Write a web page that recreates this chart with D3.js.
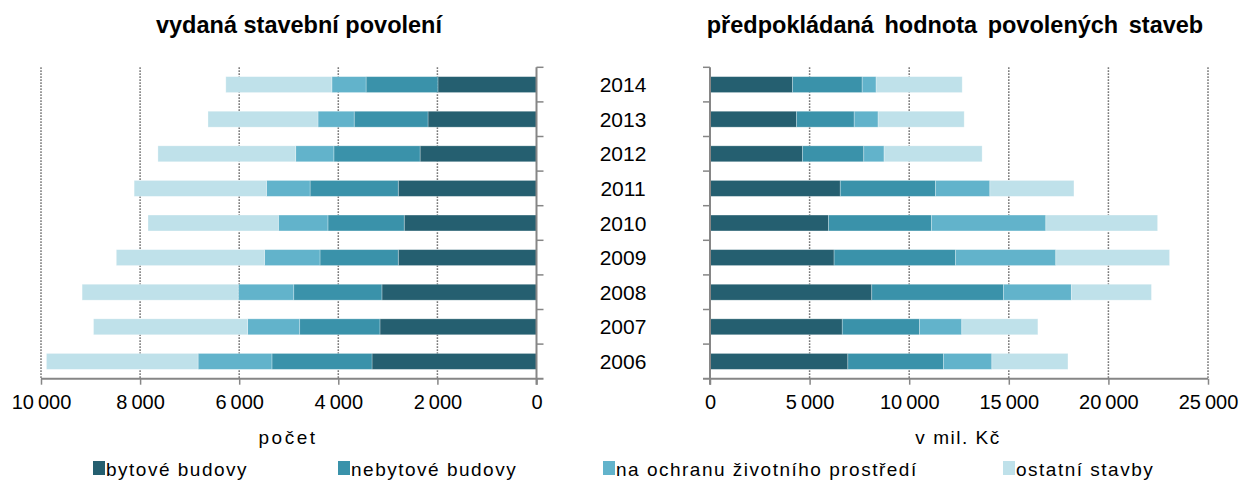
<!DOCTYPE html>
<html lang="cs">
<head>
<meta charset="utf-8">
<script src="https://cdn.jsdelivr.net/npm/d3@7"></script>
<style>
  html, body { margin: 0; padding: 0; background: #fff; }
  svg { display: block; font-family: "Liberation Sans", Arial, sans-serif; }
</style>
</head>
<body>
<svg id="chart" width="1242" height="484"></svg>
<script>
// Years shown on the shared category axis (top to bottom)
const years = ["2014", "2013", "2012", "2011", "2010", "2009", "2008", "2007", "2006"];

const seriesNames = ["bytové budovy", "nebytové budovy", "na ochranu životního prostředí", "ostatní stavby"];
const seriesColors = ["#255f70", "#3a92aa", "#62b3cb", "#bfe1ea"];

// Issued building permits (count), per year in the order of `years`
const countResidential    = [1990, 2190, 2350, 2790, 2670, 2790, 3120, 3160, 3320];
const countNonResidential = [1450, 1490, 1740, 1780, 1540, 1580, 1780, 1620, 2020];
const countEnvironment    = [ 690,  730,  770,  880, 1000, 1120, 1120, 1050, 1490];
const countOther          = [2140, 2220, 2780, 2670, 2630, 2990, 3150, 3110, 3060];

// Estimated value of permitted construction (mil. CZK)
const valueResidential    = [4140, 4340, 4640, 6540, 5950, 6230, 8120, 6640, 6920];
const valueNonResidential = [3500, 2900, 3080, 4780, 5170, 6090, 6610, 3880, 4800];
const valueEnvironment    = [ 700, 1200, 1020, 2730, 5740, 5040, 3410, 2120, 2430];
const valueOther          = [4320, 4320, 4920, 4220, 5610, 5710, 4020, 3820, 3820];

const countTicks = [0, 2000, 4000, 6000, 8000, 10000];
const valueTicks = [0, 5000, 10000, 15000, 20000, 25000];

const svg = d3.select("#chart");
const fmt = v => d3.format(",")(v).replace(/,/g, "\u2009");
const axisColor = "#868686";
const gridColor = "#7a7a7a";

const plotTop = 67.3, plotBottom = 378.7;
const y = d3.scaleBand().domain(years).range([plotTop, plotBottom]).paddingInner(0.54).paddingOuter(0.27);
const boundaries = d3.range(years.length + 1).map(i => plotTop + i * y.step());

function buildStack(arrays) {
  const rows = years.map((yr, i) => {
    const r = { year: yr };
    arrays.forEach((a, k) => r["s" + k] = a[i]);
    return r;
  });
  return d3.stack().keys(arrays.map((_, k) => "s" + k))(rows);
}

function drawPanel(opts) {
  const { x, stackArrays, ticks, axisX, tickDir, title, titleX, titleSpacing, unit, unitX, unitSpacing } = opts;
  const g = svg.append("g");

  // dotted vertical gridlines
  g.selectAll("line.grid").data(ticks.filter(t => t !== 0)).join("line")
    .attr("x1", d => x(d)).attr("x2", d => x(d))
    .attr("y1", plotTop).attr("y2", plotBottom)
    .attr("stroke", gridColor).attr("stroke-width", 1.5)
    .attr("stroke-dasharray", "1.6,1.4");

  // stacked bars
  const stack = buildStack(stackArrays);
  stack.forEach((layer, k) => {
    g.append("g").selectAll("rect").data(layer).join("rect")
      .attr("x", d => Math.min(x(d[0]), x(d[1])))
      .attr("width", d => Math.abs(x(d[1]) - x(d[0])))
      .attr("y", d => y(d.data.year))
      .attr("height", y.bandwidth())
      .attr("fill", seriesColors[k])
      .attr("stroke", "#ffffff").attr("stroke-opacity", 0.35).attr("stroke-width", 0.8);
  });

  // horizontal value axis
  const xAxisG = g.append("g").attr("transform", `translate(0,${plotBottom})`)
    .call(d3.axisBottom(x).tickValues(ticks).tickSize(6).tickPadding(10).tickFormat(fmt));
  xAxisG.select(".domain").remove();
  xAxisG.selectAll(".tick line").attr("stroke", axisColor).attr("stroke-width", 1.5);
  xAxisG.selectAll(".tick text").attr("font-size", 20).attr("fill", "#000")
    .attr("font-family", "'Liberation Sans', Arial, sans-serif");
  const [r0, r1] = d3.extent(x.range());
  const ext = tickDir > 0 ? [r0, r1 + 7] : [r0 - 7, r1];
  g.append("line").attr("x1", ext[0]).attr("x2", ext[1]).attr("y1", plotBottom).attr("y2", plotBottom)
    .attr("stroke", axisColor).attr("stroke-width", 2);

  // category axis with ticks on band boundaries
  g.append("line").attr("x1", axisX).attr("x2", axisX).attr("y1", plotTop).attr("y2", plotBottom + 6)
    .attr("stroke", axisColor).attr("stroke-width", 2);
  g.selectAll("line.cat").data(boundaries.slice(0, -1)).join("line")
    .attr("x1", axisX).attr("x2", axisX + tickDir * 7)
    .attr("y1", d => d).attr("y2", d => d)
    .attr("stroke", axisColor).attr("stroke-width", 1.5);

  svg.append("text").attr("x", titleX).attr("y", 33).attr("text-anchor", "middle")
    .attr("font-size", 23.5).attr("font-weight", "bold").attr("word-spacing", titleSpacing)
    .attr("fill", "#000").text(title);
  svg.append("text").attr("x", unitX).attr("y", 444).attr("text-anchor", "middle")
    .attr("font-size", 19).attr("letter-spacing", unitSpacing).attr("fill", "#000").text(unit);
}

const xCount = d3.scaleLinear().domain([0, 10000]).range([536.5, 41]);
const xValue = d3.scaleLinear().domain([0, 25000]).range([710, 1208]);

drawPanel({
  x: xCount,
  stackArrays: [countResidential, countNonResidential, countEnvironment, countOther],
  ticks: countTicks, axisX: 536.5, tickDir: 1,
  title: "vydaná stavební povolení", titleX: 299, titleSpacing: 0,
  unit: "počet", unitX: 288, unitSpacing: 2.5
});

drawPanel({
  x: xValue,
  stackArrays: [valueResidential, valueNonResidential, valueEnvironment, valueOther],
  ticks: valueTicks, axisX: 710, tickDir: -1,
  title: "předpokládaná hodnota povolených staveb", titleX: 955, titleSpacing: 4,
  unit: "v mil. Kč", unitX: 958, unitSpacing: 1.5
});

// year labels between both panels
svg.append("g").selectAll("text").data(years).join("text")
  .attr("x", 623).attr("y", d => y(d) + y.bandwidth() / 2)
  .attr("dy", "0.36em").attr("text-anchor", "middle")
  .attr("font-size", 21).attr("fill", "#000").text(d => d);

// legend
const legendX = [93, 338, 603, 1003];
const legend = svg.append("g").selectAll("g").data(seriesNames).join("g")
  .attr("transform", (d, i) => `translate(${legendX[i]},0)`);
legend.append("rect").attr("x", 0).attr("y", 461).attr("width", 12).attr("height", 14)
  .attr("fill", (d, i) => seriesColors[i]);
legend.append("text").attr("x", 13).attr("y", 476)
  .attr("font-size", 19).attr("letter-spacing", 1.5).attr("fill", "#000").text(d => d);
</script>
</body>
</html>
